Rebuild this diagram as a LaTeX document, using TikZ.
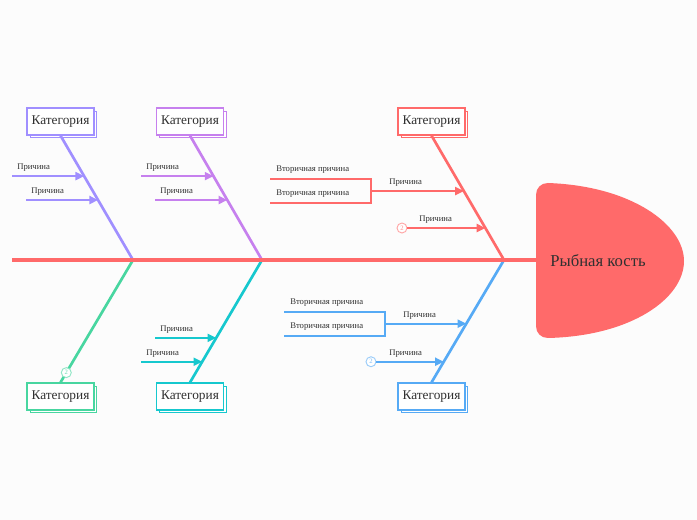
\documentclass[tikz,border=0pt]{standalone}
\usepackage{fontspec}
\setmainfont{Liberation Serif}
\usetikzlibrary{arrows.meta,calc,shadows}
\definecolor{paper}{RGB}{252,252,252}
\definecolor{fishred}{RGB}{255,106,106}
\definecolor{lavender}{RGB}{160,143,255}
\definecolor{orchid}{RGB}{198,128,238}
\definecolor{mint}{RGB}{72,214,160}
\definecolor{aqua}{RGB}{22,200,206}
\definecolor{sky}{RGB}{86,170,245}
\definecolor{ink}{RGB}{48,48,48}

\begin{document}
\begin{tikzpicture}[x=0.75pt,y=-0.75pt,
    cat/.style={draw=#1,fill=white,line width=1.1pt,minimum width=50pt,minimum height=20pt,
      inner sep=1pt,text=ink,font=\fontsize{10}{12}\selectfont,
      copy shadow={shadow xshift=2.2pt,shadow yshift=-2.2pt,draw=#1,fill=white,line width=0.7pt}},
    bone/.style={draw=#1,line width=2pt},
    cause/.style={draw=#1,line width=1.6pt,-{Triangle[length=6.5pt,width=6pt]}},
    brace/.style={draw=#1,line width=1.6pt},
    lbl/.style={anchor=base west,inner sep=0pt,text=ink,font=\fontsize{6.5}{8}\selectfont},
    more/.style={circle,draw=#1!60,fill=white,line width=0.7pt,inner sep=0pt,minimum size=7.5pt,
      text=#1!80,font=\fontsize{5}{5}\selectfont}]
  \fill[paper] (0,0) rectangle (697,520);
  \useasboundingbox (0,0) rectangle (697,520);

  % spine points
  \coordinate (tail) at (12,260);
  \coordinate (j1) at (133,260);
  \coordinate (j2) at (262,260);
  \coordinate (j3) at (504,260);
  \coordinate (neck) at (536,260);

  % head
  \fill[fishred] (536,326) -- (536,195) .. controls (536,188) and (541,183) .. (548,183)
    .. controls (632,186) and (684,225) .. (684,261)
    .. controls (684,298) and (632,336) .. (548,338)
    .. controls (541,338) and (536,333) .. (536,326) -- cycle;
  \node[font=\fontsize{12.5}{15}\selectfont,text=ink] (head) at (598,261) {Рыбная кость};

  % categories
  \node[cat=lavender] (c1) at (60.5,121.5) {Категория};
  \node[cat=orchid] (c2) at (190,121.5) {Категория};
  \node[cat=fishred] (c3) at (431.5,121.5) {Категория};
  \node[cat=mint] (c4) at (60.5,396.5) {Категория};
  \node[cat=aqua] (c5) at (190,396.5) {Категория};
  \node[cat=sky] (c6) at (431.5,396.5) {Категория};

  % bones
  \draw[bone=lavender] (c1.south) -- (j1);
  \draw[bone=orchid] (c2.south) -- (j2);
  \draw[bone=fishred] (c3.south) -- (j3);
  \draw[bone=mint] (j1) -- (c4.north);
  \draw[bone=aqua] (j2) -- (c5.north);
  \draw[bone=sky] (j3) -- (c6.north);
  \draw[bone=fishred,line width=2.3pt] (tail) -- (neck);

  % points on the bones
  \coordinate (p1a) at ($(c1.south)!0.326!(j1)$);
  \coordinate (p1b) at ($(c1.south)!0.518!(j1)$);
  \coordinate (p2a) at ($(c2.south)!0.326!(j2)$);
  \coordinate (p2b) at ($(c2.south)!0.518!(j2)$);
  \coordinate (p3a) at ($(c3.south)!0.446!(j3)$);
  \coordinate (p3b) at ($(c3.south)!0.743!(j3)$);
  \coordinate (p5a) at ($(j2)!0.636!(c5.north)$);
  \coordinate (p5b) at ($(j2)!0.831!(c5.north)$);
  \coordinate (p6a) at ($(j3)!0.520!(c6.north)$);
  \coordinate (p6b) at ($(j3)!0.831!(c6.north)$);

  % top left
  \coordinate (s1a) at (12,176);
  \coordinate (s1b) at (26,200);
  \draw[cause=lavender] (p1a -| s1a) -- (p1a);
  \draw[cause=lavender] (p1b -| s1b) -- (p1b);
  \node[lbl] (t1a) at (17,169.5) {Причина};
  \node[lbl] (t1b) at (31,193.5) {Причина};

  % top middle
  \coordinate (s2a) at (141,176);
  \coordinate (s2b) at (155,200);
  \draw[cause=orchid] (p2a -| s2a) -- (p2a);
  \draw[cause=orchid] (p2b -| s2b) -- (p2b);
  \node[lbl] (t2a) at (146,169.5) {Причина};
  \node[lbl] (t2b) at (160,193.5) {Причина};

  % top right
  \coordinate (r1) at (270,179);
  \coordinate (r2) at (270,203);
  \coordinate (rk) at (371,191);
  \draw[brace=fishred] (r1) -- (r1 -| rk) -- (r2 -| rk) -- (r2);
  \draw[cause=fishred] (p3a -| rk) -- (p3a);
  \node[lbl] (v3a) at (276,172) {Вторичная причина};
  \node[lbl] (v3b) at (276,196) {Вторичная причина};
  \node[lbl] (t3a) at (389,184.5) {Причина};
  \node[more=fishred] (m3) at (p3b -| 402,0) {2};
  \draw[cause=fishred] (m3) -- (p3b);
  \node[lbl] (t3b) at (419,221.5) {Причина};

  % bottom left
  \node[more=mint] (m4) at ($(j1)!0.92!(c4.north)$) {2};

  % bottom middle
  \coordinate (s5a) at (155,338);
  \coordinate (s5b) at (141,362);
  \draw[cause=aqua] (p5a -| s5a) -- (p5a);
  \draw[cause=aqua] (p5b -| s5b) -- (p5b);
  \node[lbl] (t5a) at (160,331.5) {Причина};
  \node[lbl] (t5b) at (146,355.5) {Причина};

  % bottom right
  \coordinate (b1) at (284,312);
  \coordinate (b2) at (284,336);
  \coordinate (bk) at (385,324);
  \draw[brace=sky] (b1) -- (b1 -| bk) -- (b2 -| bk) -- (b2);
  \draw[cause=sky] (p6a -| bk) -- (p6a);
  \node[lbl] (v6a) at (290,305) {Вторичная причина};
  \node[lbl] (v6b) at (290,329) {Вторичная причина};
  \node[lbl] (t6a) at (403,317.5) {Причина};
  \node[more=sky] (m6) at (p6b -| 371,0) {2};
  \draw[cause=sky] (m6) -- (p6b);
  \node[lbl] (t6b) at (389,355.5) {Причина};
\end{tikzpicture}
\end{document}
